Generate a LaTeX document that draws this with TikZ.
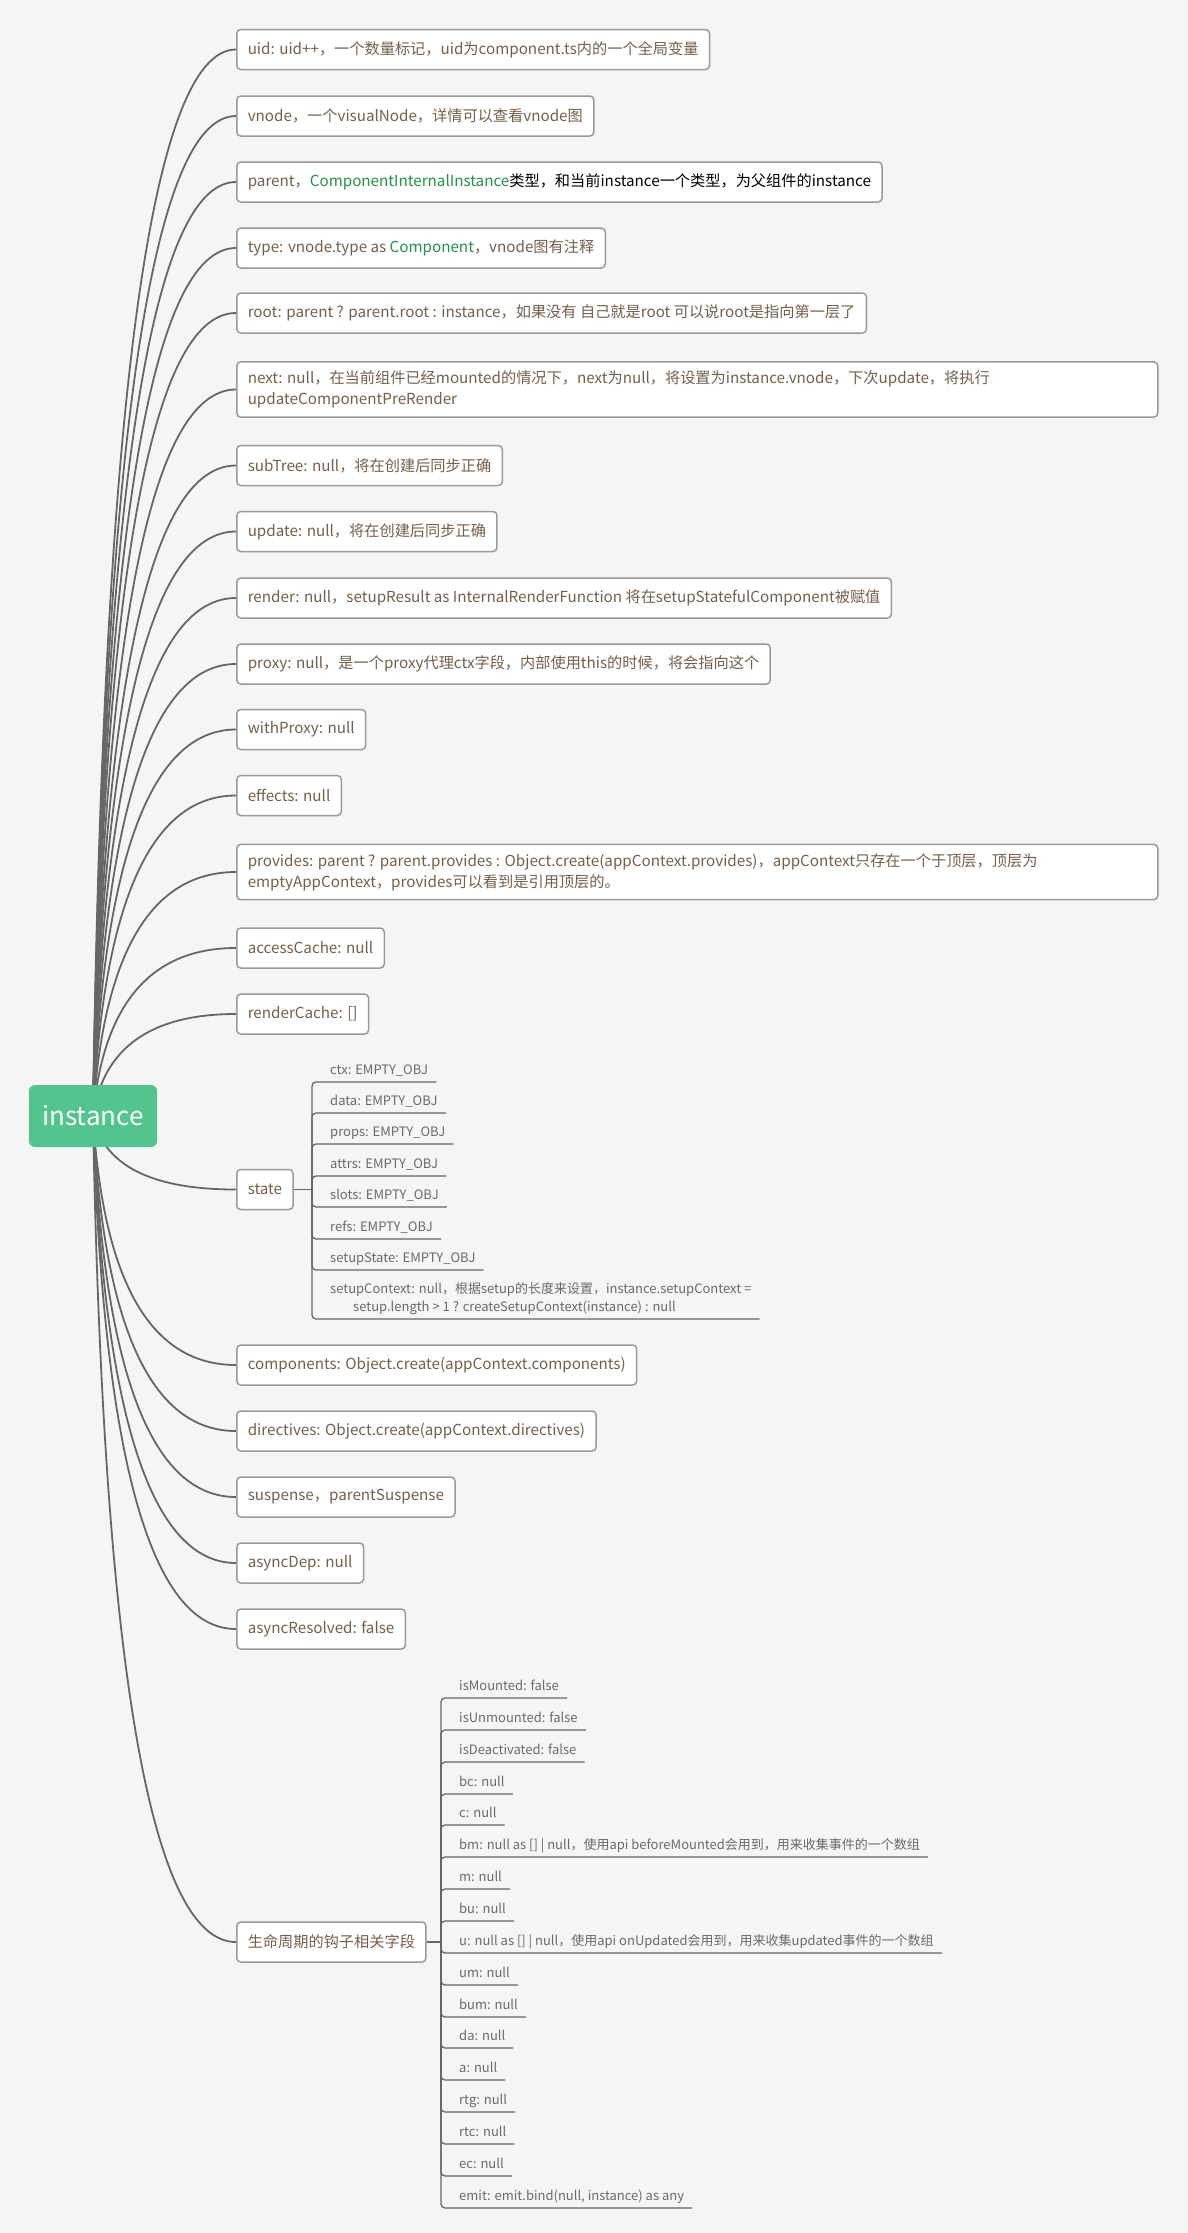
\documentclass[tikz,border=0pt]{standalone}
\usepackage{fontspec}
\setmainfont{Noto Sans CJK SC}
\usetikzlibrary{calc}
\definecolor{bggray}{HTML}{F5F5F5}
\definecolor{rootgreen}{HTML}{52C48E}
\definecolor{boxgray}{HTML}{9A9A9A}
\definecolor{linegray}{HTML}{666666}
\definecolor{txtbrown}{HTML}{745F4C}
\definecolor{typegreen}{HTML}{23904F}
\definecolor{subgray}{HTML}{6A6A6A}

\begin{document}
\begin{tikzpicture}[x=1pt,y=-1pt,
    rootbox/.style={fill=rootgreen,rounded corners=6pt,minimum width=128pt,minimum height=62pt,
      text=white,font=\fontsize{26}{30}\selectfont},
    fieldbox/.style={draw=boxgray,fill=white,line width=1.5pt,rounded corners=4pt,anchor=west,
      inner xsep=11pt,inner ysep=9pt,minimum height=40pt,align=flush left,text=txtbrown,
      font=\fontsize{15.2}{21}\selectfont},
    subfield/.style={anchor=south west,inner xsep=8pt,inner ysep=4pt,align=flush left,text=subgray,
      text height=10pt,text depth=3pt,font=\fontsize{13}{18}\selectfont},
    branchline/.style={draw=linegray,line width=1.8pt},
    twigline/.style={draw=linegray,line width=1.3pt,rounded corners=4pt},
    curvy/.style={to path={.. controls ($(\tikztostart)!2/3!(\tikztostart |- \tikztotarget)+(10,0)$)
      and ($(\tikztotarget)!2/3!(\tikztostart |- \tikztotarget)+(10,0)$) .. (\tikztotarget)}}]
\useasboundingbox (0,0) rectangle (1188,2233);
\fill[bggray] (0,0) rectangle (1188,2233);

\coordinate (rootc) at (93,1116);

% fields of the instance
\node[fieldbox] (uid) at (236,49.5) {uid: uid++，一个数量标记，uid为component.ts内的一个全局变量};
\node[fieldbox] (vnode) at (236,116) {vnode，一个visualNode，详情可以查看vnode图};
\node[fieldbox] (parent) at (236,182) {parent，\textcolor{typegreen}{ComponentInternalInstance}\textcolor{black}{类型，和当前instance一个类型，为父组件的instance}};
\node[fieldbox] (type) at (236,248) {type: vnode.type as \textcolor{typegreen}{Component}，vnode图有注释};
\node[fieldbox] (rootf) at (236,313) {root: parent ? parent.root : instance，如果没有 自己就是root 可以说root是指向第一层了};
\node[fieldbox,text width=899pt] (next) at (236,389.5) {next: null，在当前组件已经mounted的情况下，next为null，将设置为instance.vnode，下次update，将执行\\updateComponentPreRender};
\node[fieldbox] (subtree) at (236,465.5) {subTree: null，将在创建后同步正确};
\node[fieldbox] (update) at (236,531.5) {update: null，将在创建后同步正确};
\node[fieldbox] (render) at (236,598) {render: null，setupResult as InternalRenderFunction 将在setupStatefulComponent被赋值};
\node[fieldbox] (proxy) at (236,664) {proxy: null，是一个proxy代理ctx字段，内部使用this的时候，将会指向这个};
\node[fieldbox] (withproxy) at (236,729.5) {withProxy: null};
\node[fieldbox] (effects) at (236,795.5) {effects: null};
\node[fieldbox,text width=899pt] (provides) at (236,872) {provides: parent ? parent.provides : Object.create(appContext.provides)，appContext只存在一个于顶层，顶层为\\emptyAppContext，provides可以看到是引用顶层的。};
\node[fieldbox] (accesscache) at (236,948) {accessCache: null};
\node[fieldbox] (rendercache) at (236,1014) {renderCache: []};
\node[fieldbox] (state) at (236,1189.5) {state};
\node[fieldbox] (components) at (236,1365) {components: Object.create(appContext.components)};
\node[fieldbox] (directives) at (236,1431) {directives: Object.create(appContext.directives)};
\node[fieldbox] (suspense) at (236,1497) {suspense，parentSuspense};
\node[fieldbox] (asyncdep) at (236,1563) {asyncDep: null};
\node[fieldbox] (asyncres) at (236,1629) {asyncResolved: false};
\node[fieldbox] (life) at (236,1942) {生命周期的钩子相关字段};

% state
\coordinate (sj) at (312,1189.5);
\node[subfield] (ctx) at (322,1082) {ctx: EMPTY\_OBJ};
\node[subfield] (data) at (322,1113) {data: EMPTY\_OBJ};
\node[subfield] (props) at (322,1144) {props: EMPTY\_OBJ};
\node[subfield] (attrs) at (322,1176) {attrs: EMPTY\_OBJ};
\node[subfield] (slots) at (322,1207) {slots: EMPTY\_OBJ};
\node[subfield] (refs) at (322,1239) {refs: EMPTY\_OBJ};
\node[subfield] (setupstate) at (322,1270) {setupState: EMPTY\_OBJ};
\node[subfield] (setupctx) at (322,1319) {setupContext: null，根据setup的长度来设置，instance.setupContext =\\\hspace*{23pt}setup.length > 1 ? createSetupContext(instance) : null};

% lifecycle hooks
\coordinate (lj) at (441,1942);
\node[subfield] (ismounted) at (451,1698) {isMounted: false};
\node[subfield] (isunmounted) at (451,1730) {isUnmounted: false};
\node[subfield] (isdeact) at (451,1762) {isDeactivated: false};
\node[subfield] (bc) at (451,1794) {bc: null};
\node[subfield] (c) at (451,1825) {c: null};
\node[subfield] (bm) at (451,1857) {bm: null as [] | null，使用api beforeMounted会用到，用来收集事件的一个数组};
\node[subfield] (m) at (451,1889) {m: null};
\node[subfield] (bu) at (451,1921) {bu: null};
\node[subfield] (u) at (451,1953) {u: null as [] | null，使用api onUpdated会用到，用来收集updated事件的一个数组};
\node[subfield] (um) at (451,1985) {um: null};
\node[subfield] (bum) at (451,2017) {bum: null};
\node[subfield] (da) at (451,2048) {da: null};
\node[subfield] (a) at (451,2080) {a: null};
\node[subfield] (rtg) at (451,2112) {rtg: null};
\node[subfield] (rtc) at (451,2144) {rtc: null};
\node[subfield] (ec) at (451,2176) {ec: null};
\node[subfield] (emit) at (451,2208) {emit: emit.bind(null, instance) as any};

% curves from the root
\draw[branchline] (rootc) to[curvy] (uid.west);
\draw[branchline] (rootc) to[curvy] (vnode.west);
\draw[branchline] (rootc) to[curvy] (parent.west);
\draw[branchline] (rootc) to[curvy] (type.west);
\draw[branchline] (rootc) to[curvy] (rootf.west);
\draw[branchline] (rootc) to[curvy] (next.west);
\draw[branchline] (rootc) to[curvy] (subtree.west);
\draw[branchline] (rootc) to[curvy] (update.west);
\draw[branchline] (rootc) to[curvy] (render.west);
\draw[branchline] (rootc) to[curvy] (proxy.west);
\draw[branchline] (rootc) to[curvy] (withproxy.west);
\draw[branchline] (rootc) to[curvy] (effects.west);
\draw[branchline] (rootc) to[curvy] (provides.west);
\draw[branchline] (rootc) to[curvy] (accesscache.west);
\draw[branchline] (rootc) to[curvy] (rendercache.west);
\draw[branchline] (rootc) to[curvy] (state.west);
\draw[branchline] (rootc) to[curvy] (components.west);
\draw[branchline] (rootc) to[curvy] (directives.west);
\draw[branchline] (rootc) to[curvy] (suspense.west);
\draw[branchline] (rootc) to[curvy] (asyncdep.west);
\draw[branchline] (rootc) to[curvy] (asyncres.west);
\draw[branchline] (rootc) to[curvy] (life.west);

% state brackets
\draw[twigline] (state.east) -- (sj);
\draw[twigline] (sj) |- (ctx.south east);
\draw[twigline] (sj) |- (data.south east);
\draw[twigline] (sj) |- (props.south east);
\draw[twigline] (sj) |- (attrs.south east);
\draw[twigline] (sj) |- (slots.south east);
\draw[twigline] (sj) |- (refs.south east);
\draw[twigline] (sj) |- (setupstate.south east);
\draw[twigline] (sj) |- (setupctx.south east);

% lifecycle brackets
\draw[twigline] (life.east) -- (lj);
\draw[twigline] (lj) |- (ismounted.south east);
\draw[twigline] (lj) |- (isunmounted.south east);
\draw[twigline] (lj) |- (isdeact.south east);
\draw[twigline] (lj) |- (bc.south east);
\draw[twigline] (lj) |- (c.south east);
\draw[twigline] (lj) |- (bm.south east);
\draw[twigline] (lj) |- (m.south east);
\draw[twigline] (lj) |- (bu.south east);
\draw[twigline] (lj) |- (u.south east);
\draw[twigline] (lj) |- (um.south east);
\draw[twigline] (lj) |- (bum.south east);
\draw[twigline] (lj) |- (da.south east);
\draw[twigline] (lj) |- (a.south east);
\draw[twigline] (lj) |- (rtg.south east);
\draw[twigline] (lj) |- (rtc.south east);
\draw[twigline] (lj) |- (ec.south east);
\draw[twigline] (lj) |- (emit.south east);

\node[rootbox] (root) at (rootc) {instance};
\end{tikzpicture}
\end{document}
